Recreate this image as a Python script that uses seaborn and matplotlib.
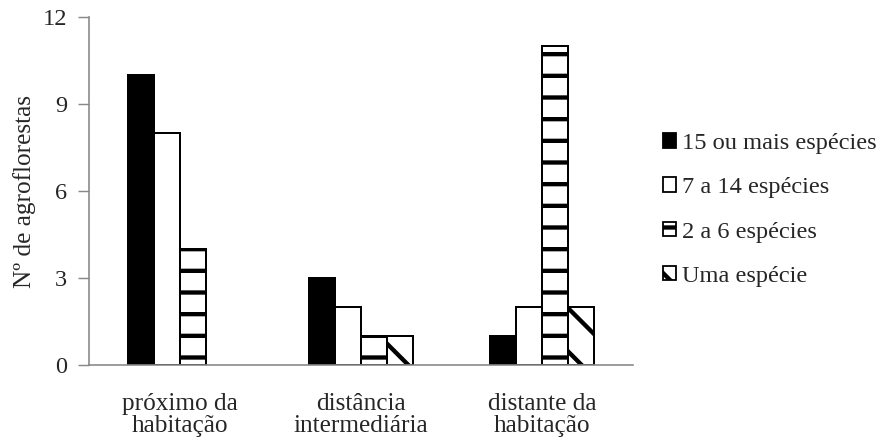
import pandas as pd
import matplotlib
matplotlib.use("Agg")
import matplotlib.pyplot as plt
import matplotlib.patches as mpatches
import seaborn as sns

# valores
locais = ["próximo da\nhabitação", "distância\nintermediária", "distante da\nhabitação"]
classes = ["15 ou mais espécies", "7 a 14 espécies", "2 a 6 espécies", "Uma espécie"]
n_15_mais = [10, 3, 1]
n_7_14 = [8, 2, 2]
n_2_6 = [4, 1, 11]
n_uma = [0, 1, 2]

df = pd.DataFrame({
    "local": locais * 4,
    "classe": [c for c in classes for _ in locais],
    "n": n_15_mais + n_7_14 + n_2_6 + n_uma,
})

sns.set_style("white")
plt.rcParams["font.family"] = ["Liberation Serif", "DejaVu Serif"]
plt.rcParams["hatch.linewidth"] = 2.4
plt.rcParams["hatch.color"] = "black"

dpi = 130
fig = plt.figure(figsize=(895 / dpi, 443 / dpi), dpi=dpi)
ax = fig.add_axes([89 / 895, 78 / 443, 544 / 895, 348 / 443])

cores = {"15 ou mais espécies": "black", "7 a 14 espécies": "white",
         "2 a 6 espécies": "white", "Uma espécie": "white"}
hachuras = ["", "", "-", "\\"]

sns.barplot(data=df, x="local", y="n", hue="classe", hue_order=classes,
            palette=cores, width=0.574, gap=0, edgecolor="black", linewidth=1.1,
            saturation=1, legend=False, ax=ax)

for cont, h in zip(ax.containers, hachuras):
    for p in cont:
        p.set_hatch(h)
        if p.get_height() == 0:
            p.set_linewidth(0)
            p.set_hatch("")

ax.set_xlim(-0.5, 2.5)
ax.set_ylim(0, 12)
ax.set_yticks([0, 3, 6, 9, 12])
ax.set_xlabel("")
ax.set_ylabel("Nº de agroflorestas", fontsize=14, labelpad=4)
ax.tick_params(axis="y", left=True, length=6, width=0.8, color="#888888",
               labelsize=13.5, pad=6)
ax.tick_params(axis="x", bottom=False, labelsize=14, pad=12)
for lbl in ax.get_xticklabels():
    lbl.set_linespacing(1.0)

for s in ["top", "right"]:
    ax.spines[s].set_visible(False)
for s in ["left", "bottom"]:
    ax.spines[s].set_color("#888888")
    ax.spines[s].set_linewidth(0.9)

handles = [mpatches.Patch(facecolor=cores[c], edgecolor="black", hatch=h, linewidth=1.0, label=c)
           for c, h in zip(classes, hachuras)]
fig.legend(handles=handles, loc="center left", bbox_to_anchor=(641 / 895, 1 - 210 / 443),
           frameon=False, fontsize=13.5, handlelength=0.55, handleheight=0.55,
           handletextpad=0.25, labelspacing=0.95)

fig.savefig("out.png", dpi=dpi)
